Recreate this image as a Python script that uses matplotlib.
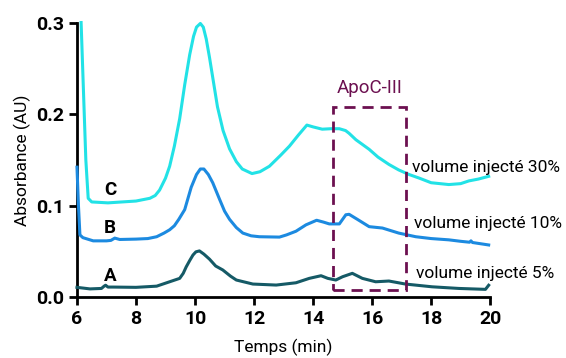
import matplotlib
matplotlib.use("Agg")
import matplotlib.pyplot as plt
from matplotlib.patches import Rectangle

plt.rcParams['font.family'] = ['Roboto', 'DejaVu Sans']

# Series C (30%)
c_x = [6.14, 6.30, 6.38, 6.5, 7.05, 8.0, 8.47, 8.65, 8.8, 9.0, 9.14, 9.3, 9.48, 9.65, 9.82, 9.95, 10.05,
       10.18, 10.28, 10.38, 10.49, 10.62, 10.76, 10.95, 11.17, 11.4, 11.6, 11.93, 12.2, 12.52, 12.9, 13.2,
       13.5, 13.79, 14.0, 14.31, 14.6, 14.89, 15.1, 15.22, 15.45, 15.9, 16.2, 16.57, 16.9, 17.25,
       17.6, 18.0, 18.6, 19.0, 19.28, 19.6, 19.95]
c_y = [0.300, 0.150, 0.108, 0.104, 0.103, 0.105, 0.108, 0.111, 0.117, 0.130, 0.143, 0.165, 0.195,
       0.232, 0.265, 0.285, 0.295, 0.299, 0.295, 0.282, 0.262, 0.236, 0.208, 0.182, 0.162, 0.148,
       0.140, 0.135, 0.137, 0.143, 0.155, 0.165, 0.177, 0.188, 0.186, 0.1835, 0.184, 0.184, 0.182,
       0.179, 0.172, 0.1615, 0.153, 0.145, 0.139, 0.134, 0.130, 0.125, 0.123, 0.124, 0.127, 0.129, 0.132]

# Series B (10%)
b_x = [6.0, 6.05, 6.1, 6.2, 6.55, 7.0, 7.15, 7.28, 7.45, 8.0, 8.4, 8.7, 8.95, 9.14, 9.3, 9.45,
       9.65, 9.87, 10.05, 10.18, 10.3, 10.45, 10.6, 10.83, 11.0, 11.17, 11.4, 11.62, 11.9, 12.18, 12.86,
       13.1, 13.42, 13.76, 14.12, 14.35, 14.55, 14.89, 15.11, 15.22, 15.5, 15.9, 16.35, 16.9,
       17.48, 18.0, 18.6, 19.0, 19.3, 19.35, 19.4, 19.95]
b_y = [0.142, 0.100, 0.068, 0.065, 0.0615, 0.0615, 0.062, 0.0645, 0.063, 0.0634, 0.064, 0.066,
       0.070, 0.0736, 0.078, 0.085, 0.0956, 0.120, 0.134, 0.140, 0.140, 0.134, 0.125, 0.107, 0.094,
       0.085, 0.076, 0.070, 0.067, 0.066, 0.0656, 0.068, 0.072, 0.079, 0.084, 0.082, 0.080,
       0.080, 0.090, 0.0905, 0.085, 0.077, 0.0755, 0.070, 0.066, 0.064, 0.0626, 0.061, 0.060,
       0.0615, 0.0597, 0.057]

# Series A (5%)
a_x = [6.0, 6.44, 6.83, 6.92, 6.97, 7.05, 7.23, 8.0, 8.7, 9.14, 9.48, 9.6, 9.7, 9.82, 9.93,
       10.03, 10.15, 10.3, 10.49, 10.7, 10.94, 11.2, 11.4, 11.96, 12.75, 13.42, 13.87, 14.27, 14.5,
       14.77, 15.0, 15.33, 15.67, 16.12, 16.57, 17.13, 18.03, 18.94, 19.84, 19.95]
a_y = [0.0107, 0.009, 0.0095, 0.012, 0.013, 0.011, 0.011, 0.0107, 0.012, 0.0168, 0.0205, 0.026,
       0.033, 0.040, 0.046, 0.0495, 0.0505, 0.047, 0.0415, 0.034, 0.0297, 0.023, 0.0187, 0.0143,
       0.0132, 0.0157, 0.0205, 0.0234, 0.0205, 0.0187, 0.0223, 0.026, 0.0205, 0.0168, 0.0176,
       0.0143, 0.0113, 0.0095, 0.0085, 0.013]

series_letters = ['C', 'B', 'A']
series_labels = ['volume injecté 30%', 'volume injecté 10%', 'volume injecté 5%']
x_ticks = [6, 8, 10, 12, 14, 16, 18, 20]
y_ticks = [0.0, 0.1, 0.2, 0.3]

col_c = '#22e2e6'
col_b = '#1c8ae0'
col_a = '#155a66'
col_box = '#6c1050'

fig = plt.figure(figsize=(5.66, 3.58), dpi=100)
ax = fig.add_axes([0.136, 0.170, 0.730, 0.767])

ax.plot(c_x, c_y, color=col_c, lw=2.2, clip_on=False, zorder=3)
ax.plot(b_x, b_y, color=col_b, lw=2.2, clip_on=False, zorder=3)
ax.plot(a_x, a_y, color=col_a, lw=2.2, clip_on=False, zorder=3)

ax.set_xlim(6, 20)
ax.set_ylim(0, 0.3)
ax.set_xticks(x_ticks)
ax.set_yticks(y_ticks)
ax.set_xticklabels([str(t) for t in x_ticks], fontweight='bold', fontsize=14)
ax.set_yticklabels([f"{t:.1f}" for t in y_ticks], fontweight='bold', fontsize=14)
ax.tick_params(direction='out', length=6, width=2, pad=3)
for s in ['top', 'right']:
    ax.spines[s].set_visible(False)
for s in ['left', 'bottom']:
    ax.spines[s].set_linewidth(2)

ax.set_xlabel('Temps (min)', fontsize=12.5, labelpad=8)
ax.set_ylabel('Absorbance (AU)', fontsize=12.5, labelpad=4)

# ApoC-III box
rect = Rectangle((14.68, 0.0077), 17.14 - 14.68, 0.208 - 0.0077, fill=False,
                 edgecolor=col_box, lw=2, linestyle=(0, (4, 2.5)), zorder=4, clip_on=False)
ax.add_patch(rect)
ax.text(15.93, 0.228, 'ApoC-III', color=col_box, fontsize=13.5, ha='center', va='center')

# letters
ax.text(7.14, 0.1175, series_letters[0], fontweight='bold', fontsize=13.5, ha='center', va='center')
ax.text(7.11, 0.076, series_letters[1], fontweight='bold', fontsize=13.5, ha='center', va='center')
ax.text(7.11, 0.023, series_letters[2], fontweight='bold', fontsize=13.5, ha='center', va='center')

# right labels
ax.text(17.35, 0.142, series_labels[0], fontsize=12.5, ha='left', va='center')
ax.text(17.42, 0.080, series_labels[1], fontsize=12.5, ha='left', va='center')
ax.text(17.49, 0.026, series_labels[2], fontsize=12.5, ha='left', va='center')

fig.savefig('out.png', dpi=100)
